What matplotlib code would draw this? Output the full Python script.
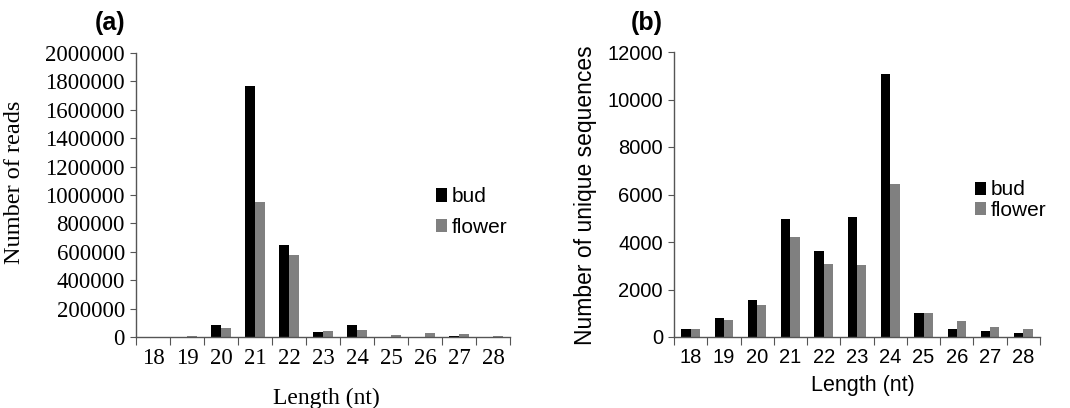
import matplotlib
matplotlib.use("Agg")
import matplotlib.pyplot as plt
import numpy as np

# read-length categories (nt)
lengths = [18, 19, 20, 21, 22, 23, 24, 25, 26, 27, 28]

# (a) total reads per length
reads_bud = [2000, 3000, 87000, 1765000, 650000, 33000, 87000, 3000, 3000, 5000, 2000]
reads_flower = [2000, 6000, 63000, 953000, 580000, 40000, 52000, 16000, 28000, 19000, 9000]

# (b) unique sequences per length
uniq_bud = [340, 800, 1570, 4970, 3630, 5060, 11060, 1010, 340, 240, 170]
uniq_flower = [340, 730, 1360, 4190, 3070, 3030, 6440, 1010, 660, 410, 340]

W, H = 1070, 408
fig = plt.figure(figsize=(W / 100, H / 100), dpi=100)

bud_col = "black"
flower_col = "#808080"
spine_col = "#555555"
bw = 0.28


def draw_panel(ax, bud, flower, ymax, ystep, font, fs):
    x = np.arange(len(lengths))
    ax.bar(x - bw / 2, bud, bw, color=bud_col, label="bud")
    ax.bar(x + bw / 2, flower, bw, color=flower_col, label="flower")
    ax.set_xlim(-0.5, len(lengths) - 0.5)
    ax.set_ylim(0, ymax)
    ax.set_yticks(np.arange(0, ymax + 1, ystep))
    ax.ticklabel_format(axis="y", style="plain", useOffset=False)
    # category ticks sit between the groups, labels at the centres
    ax.set_xticks(np.arange(-0.5, len(lengths), 1.0))
    ax.set_xticklabels([])
    ax.set_xticks(x, minor=True)
    ax.set_xticklabels([str(v) for v in lengths], minor=True, family=font, fontsize=fs)
    ax.tick_params(axis="x", which="minor", length=0, pad=8)
    ax.tick_params(axis="x", which="major", length=6, color=spine_col)
    ax.tick_params(axis="y", length=4, color=spine_col, pad=4)
    for lab in ax.get_yticklabels():
        lab.set_family(font)
        lab.set_fontsize(fs)
    for s in ("top", "right"):
        ax.spines[s].set_visible(False)
    for s in ("left", "bottom"):
        ax.spines[s].set_color(spine_col)
        ax.spines[s].set_linewidth(1.0)


# panel (a)
axa = fig.add_axes([136 / W, (H - 337) / H, 374 / W, 284 / H])
draw_panel(axa, reads_bud, reads_flower, 2000000, 200000, "Liberation Serif", 16.5)
axa.set_ylabel("Number of reads", family="Liberation Serif", fontsize=17.5)
axa.yaxis.set_label_coords(-0.297, 0.545)
axa.set_xlabel("Length (nt)", family="Liberation Serif", fontsize=17)
axa.xaxis.set_label_coords(0.508, -0.18)
axa.legend(loc="center left", bbox_to_anchor=(436 / W, (H - 212) / H),
           bbox_transform=fig.transFigure, frameon=False,
           prop={"family": "Liberation Sans", "size": 15},
           handlelength=0.55, handleheight=0.6, handletextpad=0.2,
           labelspacing=0.55, borderpad=0, borderaxespad=0)
fig.text(110 / W, (H - 23) / H, "(a)", ha="center", va="center",
         family="Liberation Sans", fontweight="bold", fontsize=18)

# panel (b)
axb = fig.add_axes([674 / W, (H - 337) / H, 366 / W, 285 / H])
draw_panel(axb, uniq_bud, uniq_flower, 12000, 2000, "Liberation Sans", 14.5)
axb.set_ylabel("Number of unique sequences", family="Liberation Sans", fontsize=16.5)
axb.yaxis.set_label_coords(-0.21, 0.498)
axb.set_xlabel("Length (nt)", family="Liberation Sans", fontsize=15.5)
axb.xaxis.set_label_coords(0.516, -0.135)
axb.legend(loc="center left", bbox_to_anchor=(975 / W, (H - 200) / H),
           bbox_transform=fig.transFigure, frameon=False,
           prop={"family": "Liberation Sans", "size": 15},
           handlelength=0.55, handleheight=0.6, handletextpad=0.2,
           labelspacing=0.05, borderpad=0, borderaxespad=0)
fig.text(647 / W, (H - 23) / H, "(b)", ha="center", va="center",
         family="Liberation Sans", fontweight="bold", fontsize=18)

fig.savefig("out.png", dpi=100)
